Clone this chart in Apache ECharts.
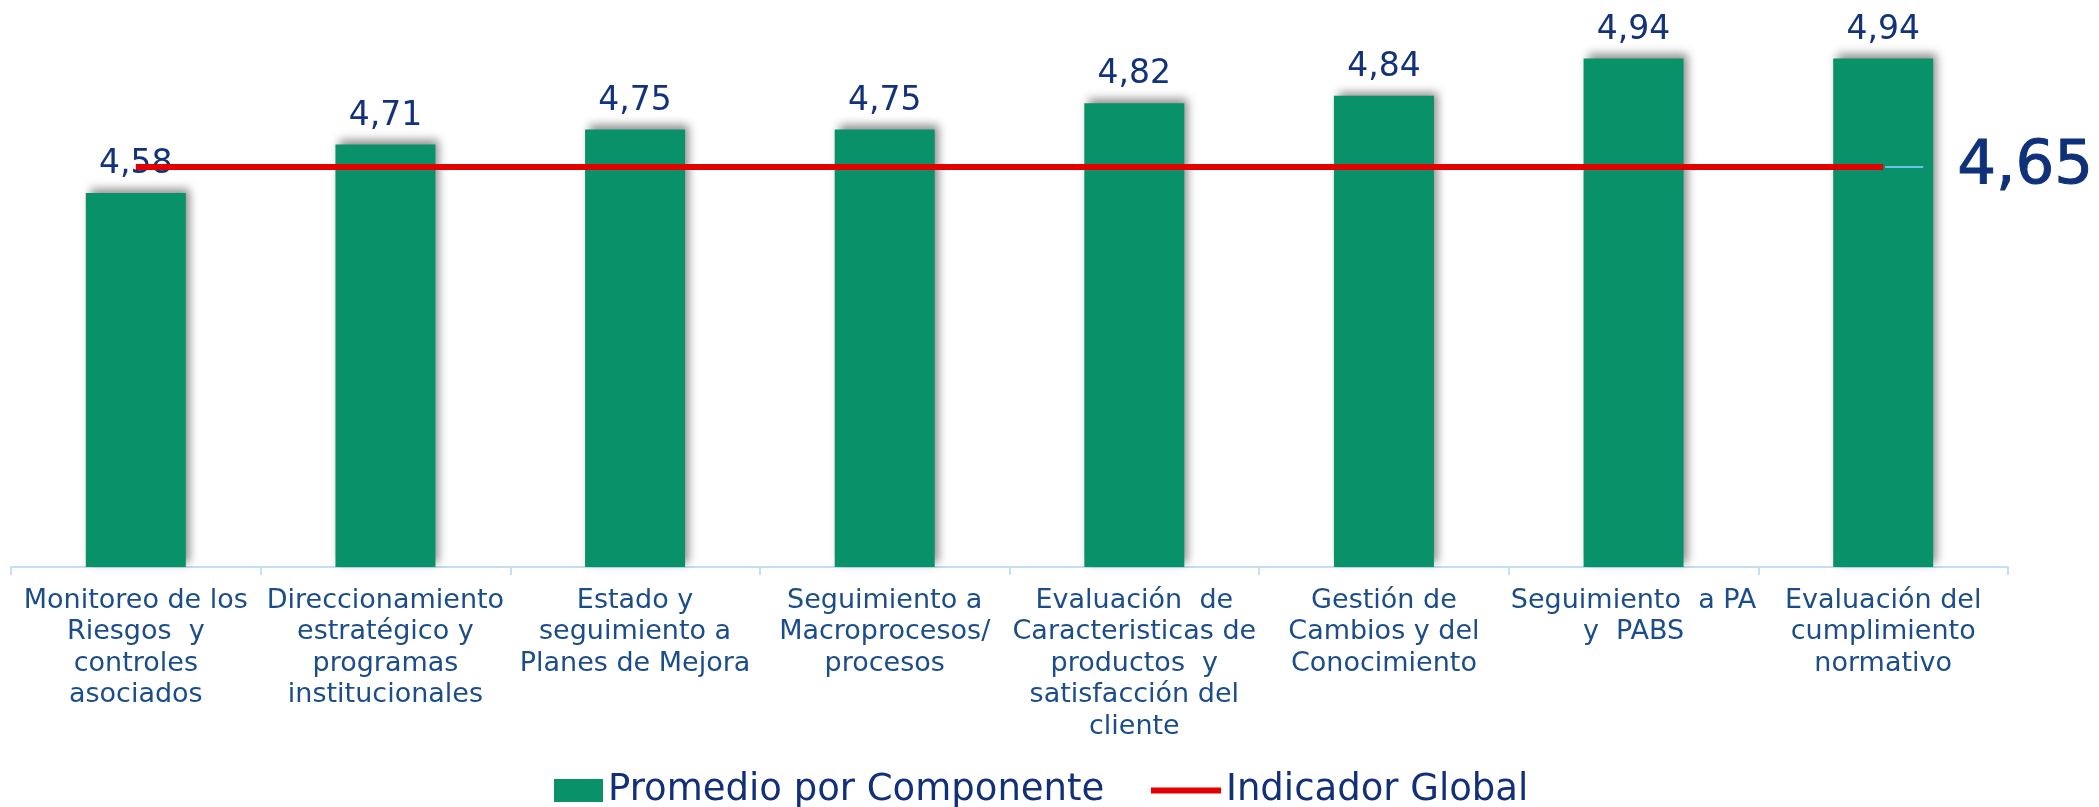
<!DOCTYPE html>
<html>
<head>
<meta charset="utf-8">
<title>Promedio por Componente</title>
<script src="https://cdn.jsdelivr.net/npm/echarts@6/dist/echarts.min.js"></script>
<style>
  html, body { margin: 0; padding: 0; background: #fff; }
  #myChart { width: 2099px; height: 807px; }
</style>
</head>
<body>
<div id="myChart"></div>
<script>
  // categorias del eje x
  var categorias = [
    'Monitoreo de los\nRiesgos  y\ncontroles\nasociados',
    'Direccionamiento\nestratégico y\nprogramas\ninstitucionales',
    'Estado y\nseguimiento a\nPlanes de Mejora',
    'Seguimiento a\nMacroprocesos/\nprocesos',
    'Evaluación  de\nCaracteristicas de\nproductos  y\nsatisfacción del\ncliente',
    'Gestión de\nCambios y del\nConocimiento',
    'Seguimiento  a PA\ny  PABS',
    'Evaluación del\ncumplimiento\nnormativo'
  ];
  var promedios = [4.58, 4.71, 4.75, 4.75, 4.82, 4.84, 4.94, 4.94];
  var indicadorGlobal = [4.65, 4.65, 4.65, 4.65, 4.65, 4.65, 4.65, 4.65];

  function coma(v) {
    return Number(v).toFixed(2).replace('.', ',');
  }

  var legendText = {
    fontFamily: 'DejaVu Sans',
    fontSize: 37,
    color: '#12307a'
  };

  var myChart = echarts.init(document.getElementById('myChart'));
  var option = {
    animation: false,
    grid: {
      left: 11,
      right: 91,
      top: 36,
      bottom: 240
    },
    legend: [
      {
        left: 549,
        top: 767,
        itemWidth: 49,
        itemHeight: 23,
        textStyle: legendText,
        data: [{ name: 'Promedio por Componente', icon: 'rect' }]
      },
      {
        left: 1146,
        top: 767,
        itemWidth: 70,
        itemHeight: 6,
        textStyle: legendText,
        data: [{ name: 'Indicador Global', icon: 'rect' }]
      }
    ],
    xAxis: {
      type: 'category',
      data: categorias,
      axisLine: { lineStyle: { color: '#c4def6', width: 2 } },
      axisTick: { show: true, length: 8, lineStyle: { color: '#c4def6', width: 2 } },
      axisLabel: {
        interval: 0,
        margin: 18,
        fontFamily: 'DejaVu Sans',
        fontSize: 27,
        lineHeight: 31.5,
        color: '#1b4d8a',
        align: 'center'
      }
    },
    yAxis: {
      type: 'value',
      min: 3.58,
      max: 5.0,
      show: false,
      splitLine: { show: false }
    },
    series: [
      {
        name: 'Promedio por Componente',
        type: 'bar',
        barWidth: 100,
        data: promedios,
        itemStyle: {
          color: '#09916a',
          shadowColor: 'rgba(0,0,0,0.45)',
          shadowBlur: 9,
          shadowOffsetX: 4,
          shadowOffsetY: -4
        },
        label: {
          show: true,
          position: 'top',
          distance: 12,
          fontFamily: 'DejaVu Sans',
          fontSize: 33,
          color: '#12327a',
          formatter: function (p) { return coma(p.value); }
        }
      },
      {
        name: 'Indicador Global',
        type: 'line',
        data: indicadorGlobal,
        symbol: 'none',
        z: 5,
        lineStyle: { color: '#e30000', width: 6 },
        itemStyle: { color: '#e30000' },
        endLabel: {
          show: true,
          distance: 2,
          formatter: function (p) { return '{l|}{v|' + coma(p.value) + '}'; },
          rich: {
            l: { width: 38, height: 2, backgroundColor: '#6cc0ee' },
            v: {
              fontFamily: 'DejaVu Sans',
              fontSize: 61,
              color: '#0f317a',
              textBorderColor: '#0f317a',
              textBorderWidth: 1,
              padding: [0, 0, 0, 34]
            }
          }
        }
      }
    ]
  };
  myChart.setOption(option);
</script>
</body>
</html>
